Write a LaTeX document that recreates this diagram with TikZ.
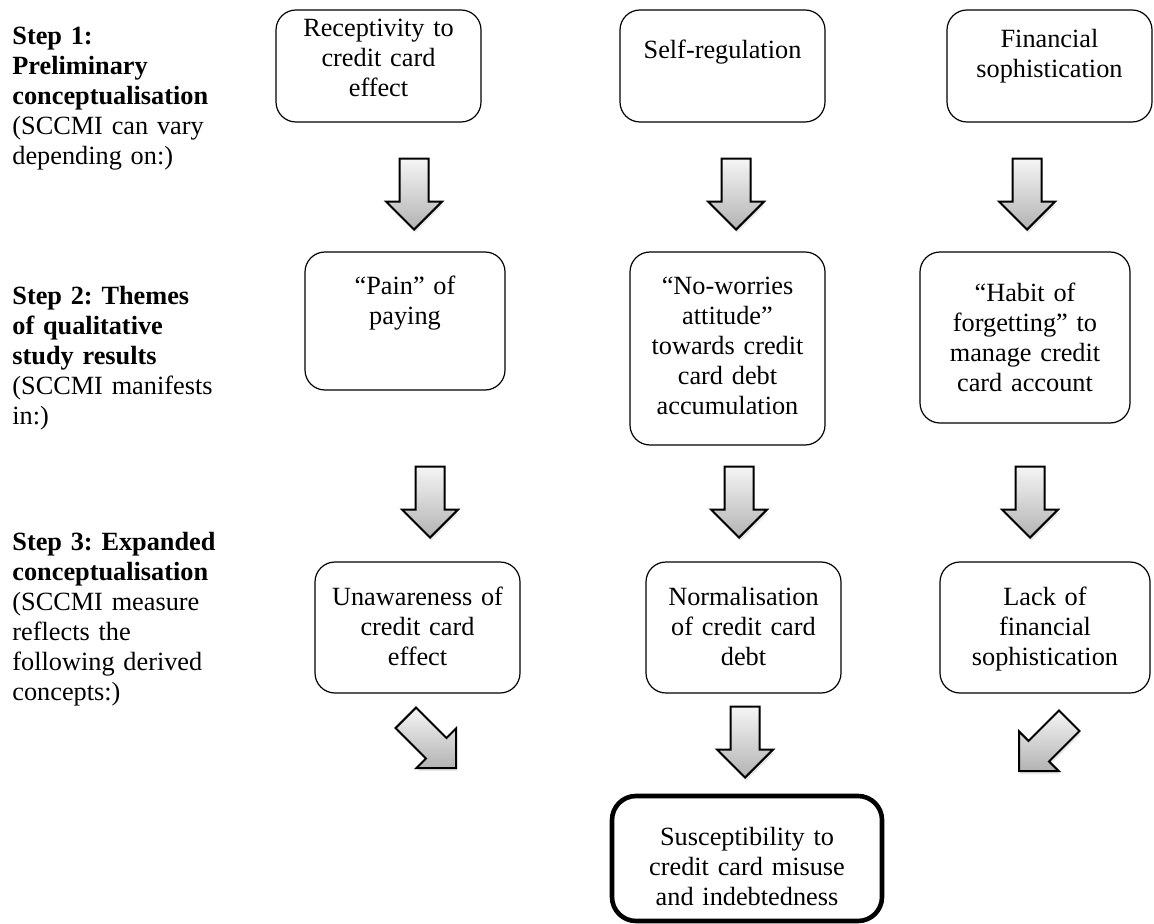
\documentclass[tikz,border=0pt]{standalone}
\usepackage{fontspec}
\setmainfont{Liberation Serif}
\usetikzlibrary{shapes.arrows,shadows}
\begin{document}
\frenchspacing
\begin{tikzpicture}[x=0.5pt,y=-0.5pt,
  every node/.style={font=\fontsize{13.15}{15}\selectfont},
  box/.style={draw=black, line width=0.6pt, rounded corners=10pt, inner sep=0pt},
  finalbox/.style={box, line width=2.3pt, rounded corners=12pt},
  txt/.style={inner sep=0pt, align=center, text width=100pt, anchor=base},
  lbl/.style={inner sep=0pt, align=left, text width=110pt, anchor=base west},
  blockarrow/.style={single arrow, draw=black, line width=1pt,
    top color=black!4, bottom color=black!30,
    minimum height=35.5pt, minimum width=27pt,
    inner xsep=0pt, inner ysep=6.75pt,
    single arrow head extend=6.75pt, single arrow tip angle=90,
    drop shadow={shadow xshift=0.6pt, shadow yshift=-1.6pt, opacity=0.18}, anchor=tip},
  down/.style={blockarrow, rotate=-90},
  downright/.style={blockarrow, rotate=-45},
  downleft/.style={blockarrow, rotate=-135}
]
\useasboundingbox (0,0) rectangle (1154,924);

% step labels
\node[lbl] (s1) at (12,45) {\textbf{Step 1:}\\\textbf{Preliminary}\\\textbf{conceptualisation}\\(SCCMI can vary\\depending on:)};
\node[lbl] (s2) at (12,305) {\textbf{Step 2: Themes}\\\textbf{of qualitative}\\\textbf{study results}\\(SCCMI manifests\\in:)};
\node[lbl] (s3) at (12,550) {\textbf{Step 3: Expanded}\\\textbf{conceptualisation}\\(SCCMI measure\\reflects the\\following derived\\concepts:)};

% row 1
\node[box, minimum width=102.5pt, minimum height=56pt] (b1) at (378.5,66) {};
\node[box, minimum width=102.5pt, minimum height=56pt] (b2) at (722.5,66) {};
\node[box, minimum width=102.5pt, minimum height=56pt] (b3) at (1049.5,66) {};
\node[txt] (b1t) at (b1.center |- 0,37) {Receptivity to\\credit card\\effect};
\node[txt] (b2t) at (b2.center |- 0,59) {Self-regulation};
\node[txt] (b3t) at (b3.center |- 0,48) {Financial\\sophistication};

\node[down] (a1) at (414,231) {};
\node[down] (a2) at (736,231) {};
\node[down] (a3) at (1027,231) {};

% row 2
\node[box, minimum width=100pt, minimum height=69pt] (b4) at (405,321) {};
\node[box, minimum width=97.5pt, minimum height=96.5pt] (b5) at (727.5,348.5) {};
\node[box, minimum width=105pt, minimum height=85.5pt] (b6) at (1025,337.5) {};
\node[txt] (b4t) at (b4.center |- 0,295) {“Pain” of\\paying};
\node[txt] (b5t) at (b5.center |- 0,295) {“No-worries\\attitude”\\towards credit\\card debt\\accumulation};
\node[txt] (b6t) at (b6.center |- 0,302) {“Habit of\\forgetting” to\\manage credit\\card account};

\node[down] (a4) at (430,539) {};
\node[down] (a5) at (739,539) {};
\node[down] (a6) at (1030,539) {};

% row 3
\node[box, minimum width=102.5pt, minimum height=65.5pt] (b7) at (417.5,627.5) {};
\node[box, minimum width=97.5pt, minimum height=65.5pt] (b8) at (743.5,627.5) {};
\node[box, minimum width=105pt, minimum height=65.5pt] (b9) at (1045,627.5) {};
\node[txt] (b7t) at (b7.center |- 0,605) {Unawareness of\\credit card\\effect};
\node[txt] (b8t) at (b8.center |- 0,605) {Normalisation\\of credit card\\debt};
\node[txt] (b9t) at (b9.center |- 0,605) {Lack of\\financial\\sophistication};

\node[downright] (a7) at (457,769) {};
\node[down] (a8) at (745,779) {};
\node[downleft] (a9) at (1018,772) {};

% outcome
\node[finalbox, minimum width=135pt, minimum height=62.5pt] (f) at (747,858.5) {};
\node[txt, text width=125pt] (ft) at (f.center |- 0,845) {Susceptibility to\\credit card misuse\\and indebtedness};
\end{tikzpicture}
\end{document}
